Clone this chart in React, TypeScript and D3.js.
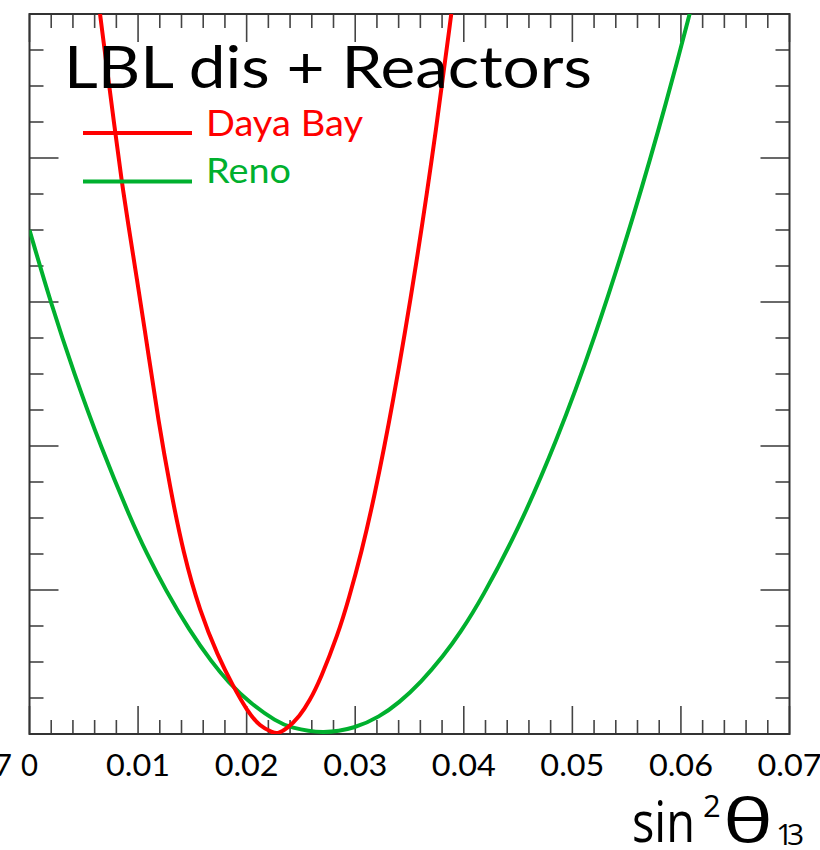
import React from "react";
import * as d3 from "d3";

// sin^2(theta13) values and Delta chi^2 values
const dayaBayX = [0.006, 0.00649, 0.0079, 0.0085, 0.00903, 0.01004, 0.01094, 0.01186, 0.01294, 0.01417, 0.0157, 0.01736, 0.01877, 0.02001, 0.02123, 0.02246, 0.0228, 0.0237, 0.0249, 0.0258, 0.0268, 0.0284, 0.0294, 0.0306, 0.0317, 0.0334, 0.0357, 0.0375, 0.0388, 0.0392];
const dayaBayY = [10.6, 10.0, 8.35, 7.67, 7.14, 6.18, 5.29, 4.36, 3.43, 2.51, 1.7, 1.08, 0.66, 0.33, 0.1, 0.02, 0.0, 0.07, 0.25, 0.46, 0.76, 1.38, 1.87, 2.54, 3.25, 4.52, 6.57, 8.44, 9.94, 10.42];

const renoX = [0.0, 0.00193, 0.00412, 0.00656, 0.00936, 0.01079, 0.01253, 0.01472, 0.01687, 0.01826, 0.02029, 0.02278, 0.024, 0.027, 0.03002, 0.03224, 0.03401, 0.03607, 0.03811, 0.03969, 0.04162, 0.04505, 0.04846, 0.05203, 0.05578, 0.05875, 0.06081, 0.06181];
const renoY = [7.0, 6.0, 5.0, 3.99, 2.97, 2.51, 2.0, 1.44, 0.98, 0.73, 0.43, 0.17, 0.09, 0.0, 0.08, 0.24, 0.43, 0.72, 1.08, 1.41, 1.87, 2.85, 4.03, 5.48, 7.25, 8.82, 10.0, 10.6];

const xTickLabels = ["0", "0.01", "0.02", "0.03", "0.04", "0.05", "0.06", "0.07"];
const xDomain = [0, 0.07];
const yDomain = [0, 10];
const legendNames = ["Daya Bay", "Reno"];
const title = "LBL dis + Reactors";

const RED = "#ff0000";
const GREEN = "#00b02e";

export default function App() {
  const left = 29.5, right = 789.5, top = 14, bottom = 734;
  const x = d3.scaleLinear().domain(xDomain).range([left, right]);
  const y = d3.scaleLinear().domain(yDomain).range([bottom, top]);

  const line = d3
    .line<[number, number]>()
    .x((d) => x(d[0]))
    .y((d) => y(d[1]))
    .curve(d3.curveBasis);

  const redPts = dayaBayX.map((v, i) => [v, dayaBayY[i]] as [number, number]);
  const greenPts = renoX.map((v, i) => [v, renoY[i]] as [number, number]);

  const xMinor = d3.range(0, 36).map((i) => i * 0.002).filter((v) => v <= 0.0701);
  const yMinor = d3.range(0, 21).map((i) => i * 0.5);

  const tickColor = "#444";
  const font = "Lato, 'DejaVu Sans', sans-serif";
  const labelFont = "'Open Sans', 'DejaVu Sans', sans-serif";

  return (
    <svg
      width={820}
      height={850}
      style={{ position: "absolute", left: 0, top: 0, background: "#fff" }}
      fontFamily={font}
    >
      <defs>
        <clipPath id="plotClip">
          <rect x={left} y={top} width={right - left} height={bottom - top} />
        </clipPath>
      </defs>
      <rect x={0} y={0} width={820} height={850} fill="#fff" />

      {/* x ticks bottom and top */}
      {xMinor.map((v, i) => {
        const major = i % 5 === 0;
        const len = major ? 28 : 14;
        return (
          <g key={"xt" + i} stroke={tickColor} strokeWidth={1.6}>
            <line x1={x(v)} x2={x(v)} y1={bottom} y2={bottom - len} />
            <line x1={x(v)} x2={x(v)} y1={top} y2={top + len} />
          </g>
        );
      })}
      {/* y ticks left and right */}
      {yMinor.map((v, i) => {
        const major = i % 4 === 0;
        const len = major ? 29 : 14;
        return (
          <g key={"yt" + i} stroke={tickColor} strokeWidth={1.6}>
            <line x1={left} x2={left + len} y1={y(v)} y2={y(v)} />
            <line x1={right} x2={right - len} y1={y(v)} y2={y(v)} />
          </g>
        );
      })}

      {/* frame */}
      <rect x={left} y={top} width={right - left} height={bottom - top} fill="none" stroke="#333" strokeWidth={2} />

      {/* curves */}
      <g clipPath="url(#plotClip)" fill="none" strokeWidth={4} strokeLinejoin="round">
        <path d={line(greenPts) || ""} stroke={GREEN} />
        <path d={line(redPts) || ""} stroke={RED} />
      </g>

      {/* x tick labels */}
      {xTickLabels.map((t, i) => (
        <text key={"xl" + i} x={x(i * 0.01)} y={776} fontSize={31} textAnchor="middle" fill="#000" textLength={t.length > 1 ? 64 : 17} lengthAdjust="spacingAndGlyphs">
          {t}
        </text>
      ))}
      {/* fragment of neighbouring label */}
      <text x={12} y={776} fontSize={31} textAnchor="end" fill="#000">
        0.07
      </text>

      {/* title */}
      <text x={64} y={88} fontSize={58} fill="#000" textLength={528} lengthAdjust="spacingAndGlyphs">
        {title}
      </text>

      {/* legend */}
      <line x1={83} x2={192} y1={133} y2={133} stroke={RED} strokeWidth={4} />
      <text x={206} y={136} fontSize={36} fill={RED} textLength={157} lengthAdjust="spacingAndGlyphs">
        {legendNames[0]}
      </text>
      <line x1={83} x2={192} y1={181.5} y2={181.5} stroke={GREEN} strokeWidth={4} />
      <text x={206} y={183} fontSize={35} fill={GREEN} textLength={85} lengthAdjust="spacingAndGlyphs">
        {legendNames[1]}
      </text>

      {/* axis title sin^2 theta_13 */}
      <g fontFamily={labelFont} fill="#000">
        <text x={632} y={842} fontSize={56} textLength={63} lengthAdjust="spacingAndGlyphs">
          sin
        </text>
        <text x={703} y={817} fontSize={31}>
          2
        </text>
        <text x={723} y={842} fontSize={60} textLength={50} lengthAdjust="spacingAndGlyphs">
          θ
        </text>
        <text x="776 787" y={845} fontSize={30}>
          13
        </text>
      </g>
    </svg>
  );
}
